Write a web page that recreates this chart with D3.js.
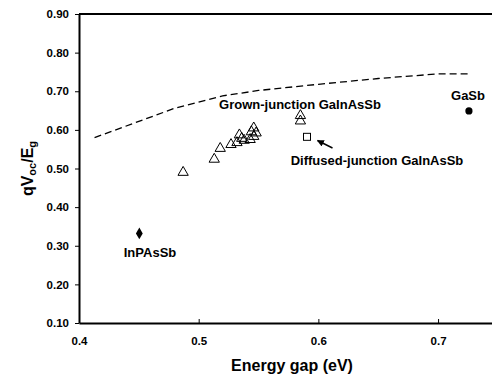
<!DOCTYPE html>
<html><head><meta charset="utf-8">
<script src="https://cdn.jsdelivr.net/npm/d3@7"></script>
<style>body{margin:0;background:#fff}svg{display:block;font-family:"Liberation Sans",Arial,sans-serif;font-weight:bold}</style>
</head><body>
<script>
const xTicks = [0.4, 0.5, 0.6, 0.7];
const yTicks = [0.10, 0.20, 0.30, 0.40, 0.50, 0.60, 0.70, 0.80, 0.90];
const theoryX = [0.413, 0.48, 0.52, 0.55, 0.60, 0.65, 0.70, 0.727];
const theoryY = [0.580, 0.656, 0.688, 0.702, 0.718, 0.733, 0.745, 0.745];
const grownX = [0.487, 0.513, 0.518, 0.527, 0.532, 0.534, 0.536, 0.538, 0.543, 0.544, 0.546, 0.548, 0.546, 0.585, 0.585];
const grownY = [0.490, 0.524, 0.552, 0.562, 0.567, 0.587, 0.578, 0.573, 0.575, 0.595, 0.605, 0.592, 0.583, 0.637, 0.623];
const diffusedX = [0.5905];
const diffusedY = [0.582];
const inpX = [0.4504];
const inpY = [0.332];
const gasbX = [0.7258];
const gasbY = [0.649];

const W = 492, H = 379;
const x = d3.scaleLinear().domain([0.4, 0.75]).range([79, 497.9]);
const y = d3.scaleLinear().domain([0.1, 0.9]).range([323, 14]);

const svg = d3.select("body").append("svg").attr("width", W).attr("height", H);

// frame top / right
svg.append("line").attr("x1", x(0.4)).attr("x2", x(0.75)).attr("y1", y(0.9)).attr("y2", y(0.9)).attr("stroke", "#000").attr("stroke-width", 2);
svg.append("line").attr("x1", x(0.75)).attr("x2", x(0.75)).attr("y1", y(0.9)).attr("y2", y(0.1)).attr("stroke", "#000").attr("stroke-width", 2);

const FF = "Liberation Sans, Arial, sans-serif";
// x axis (ticks inside)
const xAxis = d3.axisBottom(x).tickValues(xTicks).tickSize(-4).tickSizeOuter(0).tickFormat(d3.format(".1f"));
const gx = svg.append("g").attr("transform", `translate(0,${y(0.1)})`).call(xAxis);
gx.select(".domain").attr("stroke-width", 2);
gx.selectAll(".tick line").attr("stroke-width", 1);
gx.selectAll(".tick text").attr("y", 14).attr("dy", "0.71em").attr("font-size", 11.5).attr("font-family", FF).attr("font-weight", "bold").attr("fill", "#000");

// y axis (ticks outside)
const yAxis = d3.axisLeft(y).tickValues(yTicks).tickSize(4).tickSizeOuter(0).tickPadding(6).tickFormat(d3.format(".2f"));
const gy = svg.append("g").attr("transform", `translate(${x(0.4)},0)`).call(yAxis);
gy.select(".domain").attr("stroke-width", 2);
gy.selectAll(".tick text").attr("font-size", 11.5).attr("font-family", FF).attr("font-weight", "bold").attr("fill", "#000");

// dashed theory line
const line = d3.line().x((d, i) => x(theoryX[i])).y((d, i) => y(theoryY[i]));
svg.append("path").datum(theoryX).attr("d", line).attr("fill", "none").attr("stroke", "#000").attr("stroke-width", 1.3).attr("stroke-dasharray", "7,4");

// grown triangles
const tri = d3.symbol().type(d3.symbolTriangle).size(46);
svg.append("g").selectAll("path").data(grownX).join("path")
  .attr("d", tri).attr("transform", (d, i) => `translate(${x(grownX[i])},${y(grownY[i])})`)
  .attr("fill", "none").attr("stroke", "#000").attr("stroke-width", 1);

// diffused square
svg.append("g").selectAll("rect").data(diffusedX).join("rect")
  .attr("x", (d, i) => x(diffusedX[i]) - 3.5).attr("y", (d, i) => y(diffusedY[i]) - 3.5)
  .attr("width", 7).attr("height", 7).attr("fill", "#fff").attr("stroke", "#000").attr("stroke-width", 1);

// InPAsSb diamond
svg.append("g").selectAll("path").data(inpX).join("path")
  .attr("d", d3.symbol().type(d3.symbolDiamond).size(40))
  .attr("transform", (d, i) => `translate(${x(inpX[i])},${y(inpY[i])})`).attr("fill", "#000");

// GaSb circle
svg.append("g").selectAll("circle").data(gasbX).join("circle")
  .attr("cx", (d, i) => x(gasbX[i])).attr("cy", (d, i) => y(gasbY[i])).attr("r", 3.6).attr("fill", "#000");

// labels
const lab = (t, cx, by) => svg.append("text").attr("x", cx).attr("y", by).attr("text-anchor", "middle").attr("font-size", 13).text(t);
lab("Grown-junction GaInAsSb", 300, 108.5);
lab("Diffused-junction GaInAsSb", 377, 164.5);
lab("InPAsSb", 150, 257);
lab("GaSb", 468, 100);

// arrow
svg.append("defs").append("marker").attr("id", "ah").attr("viewBox", "0 0 10 10").attr("refX", 9).attr("refY", 5)
  .attr("markerWidth", 7).attr("markerHeight", 7).attr("markerUnits", "userSpaceOnUse").attr("orient", "auto")
  .append("path").attr("d", "M0,0 L10,5 L0,10 z").attr("fill", "#000");
svg.append("line").attr("x1", 332.5).attr("y1", 148).attr("x2", 317.5).attr("y2", 140.5)
  .attr("stroke", "#000").attr("stroke-width", 1.5).attr("marker-end", "url(#ah)");

// axis titles
svg.append("text").attr("x", 292).attr("y", 371).attr("text-anchor", "middle").attr("font-size", 16).text("Energy gap (eV)");
const yt = svg.append("text").attr("transform", `translate(33,${(y(0.9)+y(0.1))/2}) rotate(-90)`).attr("text-anchor", "middle").attr("font-size", 16);
yt.append("tspan").text("qV");
yt.append("tspan").attr("font-size", 11).attr("dy", 3).text("oc");
yt.append("tspan").attr("dy", -3).text("/E");
yt.append("tspan").attr("font-size", 11).attr("dy", 3).text("g");
</script>
</body></html>
